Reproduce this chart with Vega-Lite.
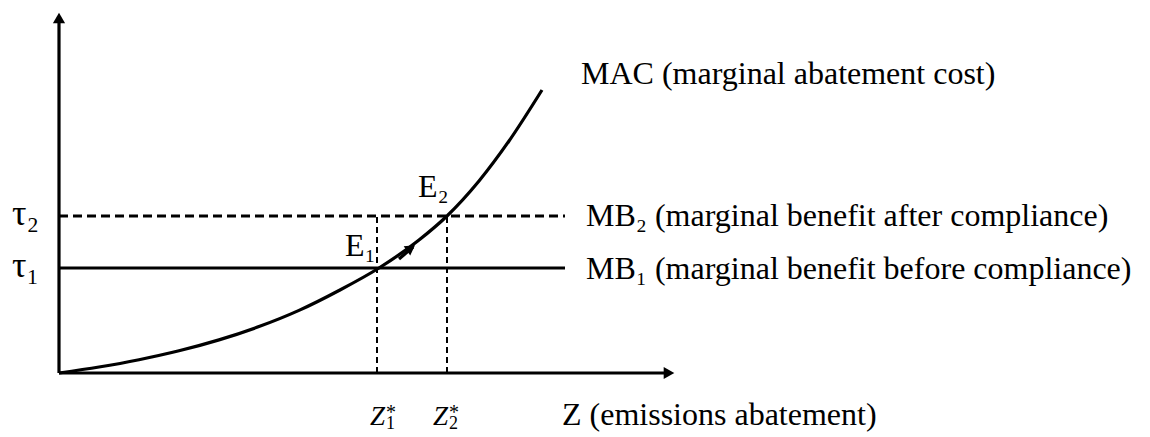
{
  "$schema": "https://vega.github.io/schema/vega-lite/v6.json",
  "width": 1150,
  "height": 437,
  "autosize": {"type": "fit", "contains": "padding"},
  "padding": 0,
  "background": "white",
  "config": {"view": {"stroke": null}},
  "datasets": {
    "segments": [
      {"seg": "yaxis", "x": 0, "y": 0, "x2": 0, "y2": 352},
      {"seg": "xaxis", "x": 0, "y": 0, "x2": 608, "y2": 0},
      {"seg": "mb1", "x": 0, "y": 105, "x2": 506, "y2": 105},
      {"seg": "mb2", "x": 0, "y": 157, "x2": 506, "y2": 157},
      {"seg": "z1", "x": 318, "y": 0, "x2": 318, "y2": 157},
      {"seg": "z2", "x": 388, "y": 0, "x2": 388, "y2": 157},
      {"seg": "move", "x": 340, "y": 114, "x2": 354, "y2": 126}
    ],
    "arrows": [
      {"dir": "up", "x": 0, "y": 355},
      {"dir": "right", "x": 610, "y": 0},
      {"dir": "curve", "x": 352, "y": 125}
    ],
    "mac": [
      {"z": 0, "cost": 0},
      {"z": 40, "cost": 6},
      {"z": 80, "cost": 13.3},
      {"z": 120, "cost": 22.2},
      {"z": 160, "cost": 33.1},
      {"z": 200, "cost": 46.4},
      {"z": 240, "cost": 62.6},
      {"z": 280, "cost": 82.5},
      {"z": 320, "cost": 105},
      {"z": 360, "cost": 133},
      {"z": 388, "cost": 157},
      {"z": 420, "cost": 192},
      {"z": 450, "cost": 232},
      {"z": 483, "cost": 283}
    ],
    "labels": [
      {"t": "MAC (marginal abatement cost)", "x": 522, "y": 289},
      {"t": "MB₂ (marginal benefit after compliance)", "x": 527, "y": 147},
      {"t": "MB₁ (marginal benefit before compliance)", "x": 527, "y": 94},
      {"t": "Z (emissions abatement)", "x": 503, "y": -52},
      {"t": "E₂", "x": 359, "y": 176},
      {"t": "E₁", "x": 286, "y": 117}
    ],
    "taus": [
      {"t": "τ₂", "x": -47, "y": 148},
      {"t": "τ₁", "x": -47, "y": 96}
    ],
    "zs": [
      {"t": "Z", "x": 311, "y": -52},
      {"t": "Z", "x": 374, "y": -52}
    ],
    "zsub": [
      {"t": "1", "x": 327, "y": -56},
      {"t": "2", "x": 390, "y": -56}
    ],
    "zsup": [
      {"t": "*", "x": 327, "y": -46},
      {"t": "*", "x": 390, "y": -46}
    ]
  },
  "encoding": {},
  "layer": [
    {
      "data": {"name": "segments"},
      "transform": [{"filter": "datum.seg == 'yaxis' || datum.seg == 'xaxis' || datum.seg == 'mb1' || datum.seg == 'move'"}],
      "mark": {"type": "rule", "color": "black", "strokeWidth": 3.2},
      "encoding": {
        "x": {"field": "x", "type": "quantitative", "scale": {"domain": [-59, 1091], "nice": false, "zero": false}, "axis": null},
        "y": {"field": "y", "type": "quantitative", "scale": {"domain": [-64, 373], "nice": false, "zero": false}, "axis": null},
        "x2": {"field": "x2"},
        "y2": {"field": "y2"}
      }
    },
    {
      "data": {"name": "segments"},
      "transform": [{"filter": "datum.seg == 'mb2'"}],
      "mark": {"type": "rule", "color": "black", "strokeWidth": 3.2, "strokeDash": [9, 5]},
      "encoding": {
        "x": {"field": "x", "type": "quantitative"},
        "y": {"field": "y", "type": "quantitative"},
        "x2": {"field": "x2"},
        "y2": {"field": "y2"}
      }
    },
    {
      "data": {"name": "segments"},
      "transform": [{"filter": "datum.seg == 'z1' || datum.seg == 'z2'"}],
      "mark": {"type": "rule", "color": "black", "strokeWidth": 2, "strokeDash": [6, 4]},
      "encoding": {
        "x": {"field": "x", "type": "quantitative"},
        "y": {"field": "y", "type": "quantitative"},
        "x2": {"field": "x2"},
        "y2": {"field": "y2"}
      }
    },
    {
      "data": {"name": "mac"},
      "mark": {"type": "line", "color": "black", "strokeWidth": 3.2, "interpolate": "monotone"},
      "encoding": {
        "x": {"field": "z", "type": "quantitative"},
        "y": {"field": "cost", "type": "quantitative"}
      }
    },
    {
      "data": {"name": "arrows"},
      "transform": [{"filter": "datum.dir == 'up'"}],
      "mark": {"type": "point", "shape": "triangle-up", "filled": true, "color": "black", "opacity": 1, "size": 150},
      "encoding": {
        "x": {"field": "x", "type": "quantitative"},
        "y": {"field": "y", "type": "quantitative"}
      }
    },
    {
      "data": {"name": "arrows"},
      "transform": [{"filter": "datum.dir == 'right'"}],
      "mark": {"type": "point", "shape": "triangle-right", "filled": true, "color": "black", "opacity": 1, "size": 150},
      "encoding": {
        "x": {"field": "x", "type": "quantitative"},
        "y": {"field": "y", "type": "quantitative"}
      }
    },
    {
      "data": {"name": "arrows"},
      "transform": [{"filter": "datum.dir == 'curve'"}],
      "mark": {"type": "point", "shape": "triangle-up", "filled": true, "color": "black", "opacity": 1, "size": 130, "angle": 55},
      "encoding": {
        "x": {"field": "x", "type": "quantitative"},
        "y": {"field": "y", "type": "quantitative"}
      }
    },
    {
      "data": {"name": "labels"},
      "mark": {"type": "text", "font": "Liberation Serif", "fontSize": 32, "align": "left", "baseline": "alphabetic", "color": "black"},
      "encoding": {
        "x": {"field": "x", "type": "quantitative"},
        "y": {"field": "y", "type": "quantitative"},
        "text": {"field": "t"}
      }
    },
    {
      "data": {"name": "taus"},
      "mark": {"type": "text", "font": "Liberation Serif", "fontSize": 36, "align": "left", "baseline": "alphabetic", "color": "black"},
      "encoding": {
        "x": {"field": "x", "type": "quantitative"},
        "y": {"field": "y", "type": "quantitative"},
        "text": {"field": "t"}
      }
    },
    {
      "data": {"name": "zs"},
      "mark": {"type": "text", "font": "Liberation Serif", "fontSize": 27, "fontStyle": "italic", "align": "left", "baseline": "alphabetic", "color": "black"},
      "encoding": {
        "x": {"field": "x", "type": "quantitative"},
        "y": {"field": "y", "type": "quantitative"},
        "text": {"field": "t"}
      }
    },
    {
      "data": {"name": "zsub"},
      "mark": {"type": "text", "font": "Liberation Serif", "fontSize": 18, "align": "left", "baseline": "alphabetic", "color": "black"},
      "encoding": {
        "x": {"field": "x", "type": "quantitative"},
        "y": {"field": "y", "type": "quantitative"},
        "text": {"field": "t"}
      }
    },
    {
      "data": {"name": "zsup"},
      "mark": {"type": "text", "font": "Liberation Serif", "fontSize": 20, "align": "left", "baseline": "alphabetic", "color": "black"},
      "encoding": {
        "x": {"field": "x", "type": "quantitative"},
        "y": {"field": "y", "type": "quantitative"},
        "text": {"field": "t"}
      }
    }
  ]
}
